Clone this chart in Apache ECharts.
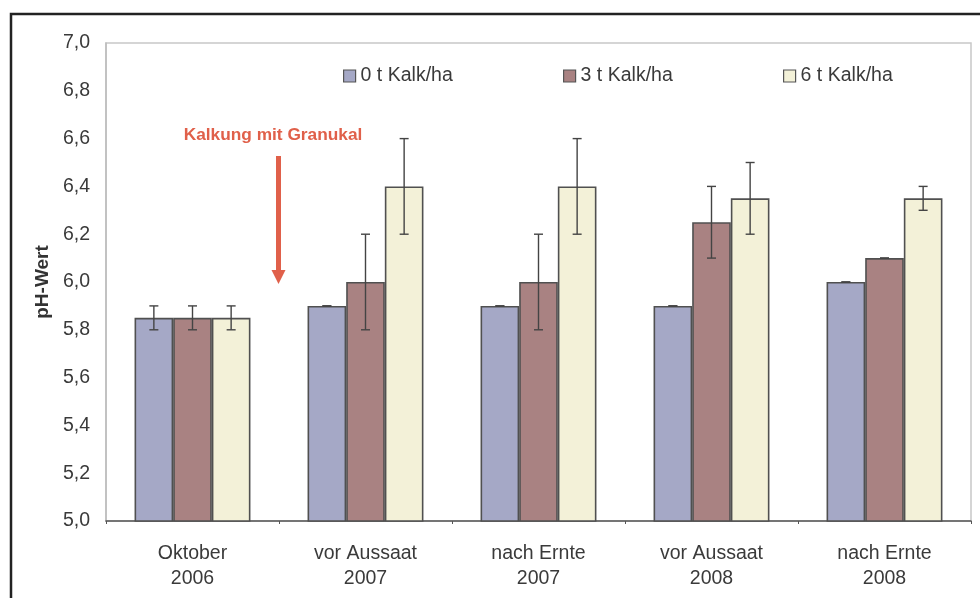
<!DOCTYPE html>
<html>
<head>
<meta charset="utf-8">
<script src="https://cdn.jsdelivr.net/npm/echarts@6/dist/echarts.min.js"></script>
<style>
html,body{margin:0;padding:0;background:#fff;}
#chart{width:980px;height:598px;}
</style>
</head>
<body>
<div id="chart"></div>
<script>
var categories = ['Oktober\n2006', 'vor Aussaat\n2007', 'nach Ernte\n2007', 'vor Aussaat\n2008', 'nach Ernte\n2008'];
var seriesNames = ['0 t Kalk/ha', '3 t Kalk/ha', '6 t Kalk/ha'];
var kalk0 = [5.85, 5.90, 5.90, 5.90, 6.00];
var kalk3 = [5.85, 6.00, 6.00, 6.25, 6.10];
var kalk6 = [5.85, 6.40, 6.40, 6.35, 6.35];
var err0 = [0.05, 0.00, 0.00, 0.00, 0.00];
var err3 = [0.05, 0.20, 0.20, 0.15, 0.00];
var err6 = [0.05, 0.20, 0.20, 0.15, 0.05];
var yTicks = ['5,0','5,2','5,4','5,6','5,8','6,0','6,2','6,4','6,6','6,8','7,0'];
var annotationText = 'Kalkung mit Granukal';

var colors = ['#a5a8c6', '#a98282', '#f3f1d8'];
var values = [kalk0, kalk3, kalk6];
var errors = [err0, err3, err6];
var FONT = 'Liberation Sans, Arial, sans-serif';
var GAP = 0.33;

var chart = echarts.init(document.getElementById('chart'));

var series = [];
seriesNames.forEach(function (name, s) {
  series.push({
    name: name,
    type: 'bar',
    data: values[s],
    barGap: '0%',
    barCategoryGap: (GAP * 100) + '%',
    itemStyle: { color: colors[s], borderColor: '#505050', borderWidth: 1.6 },
    emphasis: { disabled: true },
    z: 2
  });
});
seriesNames.forEach(function (name, s) {
  var d = values[s].map(function (v, i) { return [i, v - errors[s][i], v + errors[s][i]]; });
  series.push({
    type: 'custom',
    name: name + ' err',
    data: d,
    z: 5,
    silent: true,
    renderItem: function (params, api) {
      var i = api.value(0);
      var lo = api.coord([i, api.value(1)]);
      var hi = api.coord([i, api.value(2)]);
      var band = api.size([1, 0])[0];
      var bw = band * (1 - GAP) / 3;
      var x = lo[0] + (s - 1) * bw;
      var cap = 4.5;
      var st = { stroke: '#444', lineWidth: 1.4 };
      return {
        type: 'group',
        children: [
          { type: 'line', shape: { x1: x, y1: lo[1], x2: x, y2: hi[1] }, style: st },
          { type: 'line', shape: { x1: x - cap, y1: lo[1], x2: x + cap, y2: lo[1] }, style: st },
          { type: 'line', shape: { x1: x - cap, y1: hi[1], x2: x + cap, y2: hi[1] }, style: st }
        ]
      };
    }
  });
});

function legendAt(name, left) {
  return {
    data: [name],
    left: left,
    top: 66,
    padding: 0,
    icon: 'rect',
    itemWidth: 12,
    itemHeight: 12,
    itemGap: 0,
    selectedMode: false,
    textStyle: { fontFamily: FONT, fontSize: 19.5, color: '#3a3a3a' },
    itemStyle: { borderColor: '#555', borderWidth: 1.2 }
  };
}

chart.setOption({
  animation: false,
  backgroundColor: '#fff',
  grid: { left: 106, right: 9, top: 43, bottom: 77, show: true, borderColor: '#c8c8c8', borderWidth: 1.5 },
  legend: [
    legendAt(seriesNames[0], 343),
    legendAt(seriesNames[1], 563),
    legendAt(seriesNames[2], 783)
  ],
  xAxis: {
    type: 'category',
    data: categories,
    axisLine: { lineStyle: { color: '#555', width: 1.5 } },
    axisTick: { show: true, length: 3, interval: 0, lineStyle: { color: '#555' } },
    axisLabel: { interval: 0, margin: 20, fontFamily: FONT, fontSize: 19.5, color: '#3a3a3a', lineHeight: 25 }
  },
  yAxis: {
    type: 'value',
    min: 5.0,
    max: 7.0,
    interval: 0.2,
    name: 'pH-Wert',
    nameLocation: 'middle',
    nameGap: 53,
    nameRotate: 90,
    nameTextStyle: { fontFamily: FONT, fontSize: 19, fontWeight: 'bold', color: '#333' },
    axisLine: { show: true, lineStyle: { color: '#bbb', width: 1.5 } },
    axisTick: { show: false },
    splitLine: { show: false },
    axisLabel: {
      margin: 16,
      fontFamily: FONT,
      fontSize: 19.5,
      color: '#3a3a3a',
      formatter: function (v) { return yTicks[Math.round((v - 5.0) / 0.2)]; }
    }
  },
  graphic: [
    { type: 'rect', shape: { x: 11, y: 14, width: 1000, height: 700 }, style: { fill: 'none', stroke: '#222', lineWidth: 2.5 }, silent: true },
    { type: 'text', x: 273, y: 135, style: { text: annotationText, fontFamily: FONT, fontSize: 17.3, fontWeight: 'bold', fill: '#e0604a', align: 'center', verticalAlign: 'middle' } },
    { type: 'line', shape: { x1: 278.5, y1: 156, x2: 278.5, y2: 272 }, style: { stroke: '#e0604a', lineWidth: 5 } },
    { type: 'polygon', shape: { points: [[271.5, 270], [285.5, 270], [278.5, 284]] }, style: { fill: '#e0604a' } }
  ],
  series: series
});
</script>
</body>
</html>
